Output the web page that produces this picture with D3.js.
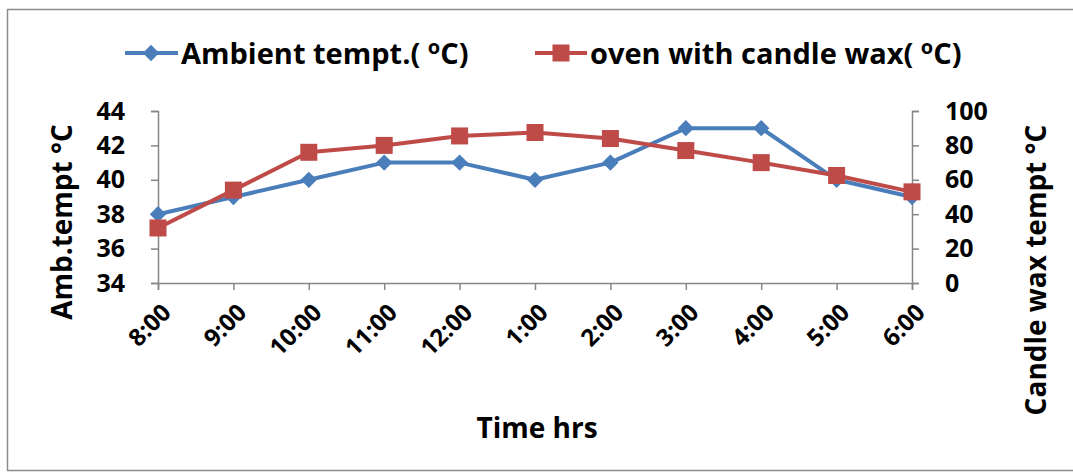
<!DOCTYPE html>
<html>
<head>
<meta charset="utf-8">
<script src="https://cdn.jsdelivr.net/npm/d3@7"></script>
<style>
  body { margin: 0; background: #fff; }
  text { font-family: "Open Sans", sans-serif; font-weight: bold; fill: #000; }
  .axis path, .axis line { stroke: #868686; stroke-width: 1.5; }
</style>
</head>
<body>
<div id="chart"></div>
<script>
var hours = ["8:00", "9:00", "10:00", "11:00", "12:00", "1:00", "2:00", "3:00", "4:00", "5:00", "6:00"],
	ambient = [38, 39, 40, 41, 41, 40, 41, 43, 43, 40, 39],
	ovenWax = [32, 54, 76, 80, 85.5, 87.5, 84, 77, 70, 62.5, 53],
	leftTicks = [34, 36, 38, 40, 42, 44],
	rightTicks = [0, 20, 40, 60, 80, 100];

var width = 1073,
	height = 472,
	plotLeft = 158,
	plotRight = 912,
	plotTop = 111,
	plotBottom = 283;

var svg = d3.select("#chart")
	.append("svg")
	.attr("width", width)
	.attr("height", height);

// frame round the chart
svg.append("rect")
	.attr("x", 7.5).attr("y", 9.5)
	.attr("width", 1070).attr("height", 461)
	.attr("fill", "none")
	.attr("stroke", "#8c8c8c")
	.attr("stroke-width", 1.5);

var x = d3.scalePoint().domain(hours).range([plotLeft, plotRight]),
	yLeft = d3.scaleLinear().domain([34, 44]).range([plotBottom, plotTop]),
	yRight = d3.scaleLinear().domain([0, 100]).range([plotBottom, plotTop]);

var xAxis = svg.append("g")
	.attr("class", "axis")
	.attr("transform", "translate(0," + plotBottom + ")")
	.call(d3.axisBottom(x).tickSizeOuter(0).tickSize(7).tickPadding(6));
xAxis.selectAll("text")
	.style("font-size", "24px")
	.attr("text-anchor", "end")
	.attr("y", 0)
	.attr("dy", "0.35em")
	.attr("transform", "translate(8,25) rotate(-45)");

var la = svg.append("g")
	.attr("class", "axis")
	.attr("transform", "translate(" + plotLeft + ",0)")
	.call(d3.axisLeft(yLeft).tickValues(leftTicks).tickSizeOuter(0).tickSize(7).tickPadding(26));
la.selectAll("text").style("font-size", "25px");

var ra = svg.append("g")
	.attr("class", "axis")
	.attr("transform", "translate(" + plotRight + ",0)")
	.call(d3.axisRight(yRight).tickValues(rightTicks).tickSizeOuter(0).tickSize(7).tickPadding(26));
ra.selectAll("text").style("font-size", "25px");

// lines
var blueLine = d3.line().x(function(d, i){ return x(hours[i]); }).y(function(d){ return yLeft(d); }),
	redLine = d3.line().x(function(d, i){ return x(hours[i]); }).y(function(d){ return yRight(d); });

svg.append("path").datum(ambient)
	.attr("d", blueLine)
	.attr("fill", "none").attr("stroke", "#4a7ebb").attr("stroke-width", 4)
	.attr("stroke-linejoin", "round");

svg.selectAll(".diamond")
	.data(ambient).enter()
	.append("path")
	.attr("class", "diamond")
	.attr("d", d3.symbol().type(d3.symbolDiamond2).size(170))
	.attr("transform", function(d, i){ return "translate(" + x(hours[i]) + "," + yLeft(d) + ")"; })
	.attr("fill", "#4a7ebb");

svg.append("path").datum(ovenWax)
	.attr("d", redLine)
	.attr("fill", "none").attr("stroke", "#be4b48").attr("stroke-width", 4)
	.attr("stroke-linejoin", "round");

svg.selectAll(".square")
	.data(ovenWax).enter()
	.append("rect")
	.attr("class", "square")
	.attr("x", function(d, i){ return x(hours[i]) - 8.5; })
	.attr("y", function(d){ return yRight(d) - 8.5; })
	.attr("width", 17).attr("height", 17)
	.attr("fill", "#be4b48");

// legend
var lg = svg.append("g");
lg.append("line").attr("x1", 125).attr("x2", 178).attr("y1", 53).attr("y2", 53)
	.attr("stroke", "#4a7ebb").attr("stroke-width", 4);
lg.append("path").attr("d", d3.symbol().type(d3.symbolDiamond2).size(170))
	.attr("transform", "translate(151,53)").attr("fill", "#4a7ebb");
var t1 = lg.append("text").attr("x", 181).attr("y", 64).style("font-size", "29px");
t1.append("tspan").text("Ambient tempt.( ");
t1.append("tspan").attr("dy", -10).style("font-size", "20px").text("o");
t1.append("tspan").attr("dy", 10).text("C)");

lg.append("line").attr("x1", 535).attr("x2", 587).attr("y1", 53).attr("y2", 53)
	.attr("stroke", "#be4b48").attr("stroke-width", 4);
lg.append("rect").attr("x", 552.5).attr("y", 44.5).attr("width", 17).attr("height", 17)
	.attr("fill", "#be4b48");
var t2 = lg.append("text").attr("x", 590).attr("y", 64).style("font-size", "29px");
t2.append("tspan").text("oven with candle wax( ");
t2.append("tspan").attr("dy", -10).style("font-size", "20px").text("o");
t2.append("tspan").attr("dy", 10).text("C)");

// axis titles
svg.append("text")
	.attr("text-anchor", "middle")
	.attr("transform", "translate(72,222) rotate(-90)")
	.style("font-size", "28px")
	.text("Amb.tempt \u00b0C");

svg.append("text")
	.attr("text-anchor", "middle")
	.attr("transform", "translate(1046,270) rotate(-90)")
	.style("font-size", "28px")
	.text("Candle wax tempt \u00b0C");

svg.append("text")
	.attr("text-anchor", "middle")
	.attr("x", 537).attr("y", 438)
	.style("font-size", "28px")
	.text("Time hrs");
</script>
</body>
</html>
